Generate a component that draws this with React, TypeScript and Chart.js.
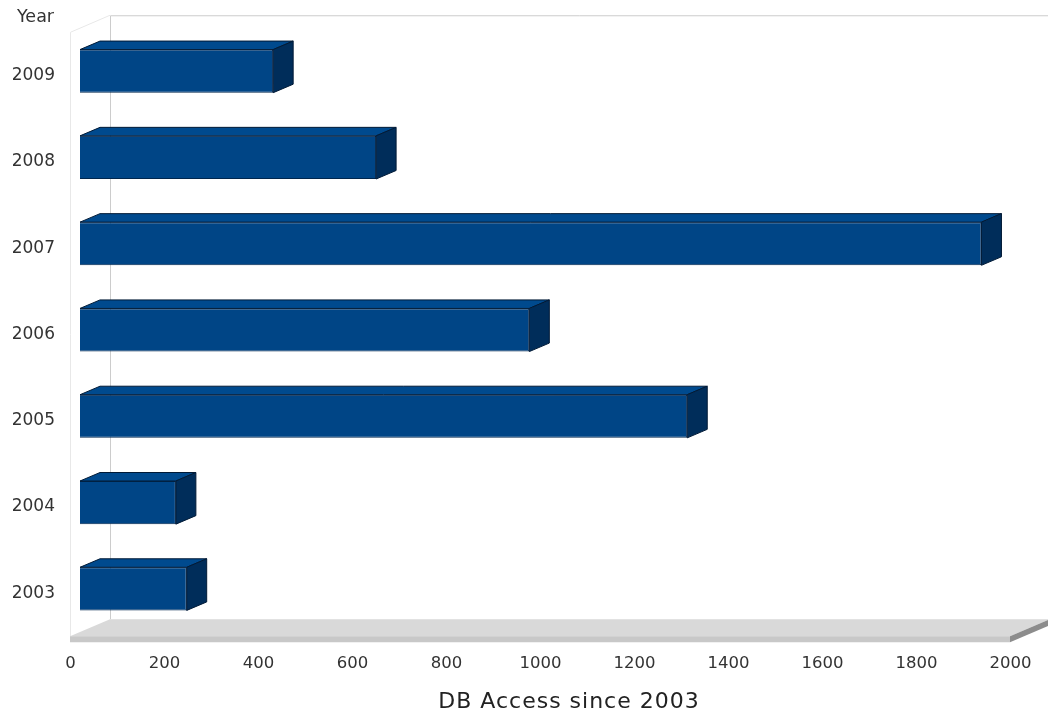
import React, { useEffect, useRef } from "react";
import { Chart, registerables } from "chart.js";

Chart.register(...registerables);

// ---- data ----
const categories = ["2003", "2004", "2005", "2006", "2007", "2008", "2009"];
const accessCounts = [227, 204, 1292, 956, 1918, 630, 411];
const xTickValues = [0, 200, 400, 600, 800, 1000, 1200, 1400, 1600, 1800, 2000];
const xTitle = "DB Access since 2003";
const yTitle = "Year";

const FONT = "'DejaVu Sans', sans-serif";

// depth geometry (relative to the bar front plane)
const FRONT_DX = -10;
const FRONT_DY = 4.25;
const BACK_DX = 30;
const BACK_DY = -12.75;
const BAR_DX = 20;
const BAR_DY = -8.5;
const FLOOR_T = 6;

const threeD = {
  id: "threeD",
  beforeDatasetsDraw(chart: any) {
    const { ctx, chartArea } = chart;
    const { top, bottom } = chartArea;
    const xs = chart.scales.x;
    const x0 = xs.getPixelForValue(xTickValues[0]);
    const x1 = xs.getPixelForValue(xTickValues[xTickValues.length - 1]);
    ctx.save();
    ctx.lineWidth = 1;
    // left wall
    ctx.strokeStyle = "#e8e8e8";
    ctx.beginPath();
    ctx.moveTo(x0 + FRONT_DX + 0.5, bottom + FRONT_DY);
    ctx.lineTo(x0 + FRONT_DX + 0.5, top + FRONT_DY);
    ctx.lineTo(x0 + BACK_DX, top + BACK_DY);
    ctx.stroke();
    // back wall
    ctx.strokeStyle = "#cccccc";
    ctx.beginPath();
    ctx.moveTo(x0 + BACK_DX + 0.5, bottom + BACK_DY);
    ctx.lineTo(x0 + BACK_DX + 0.5, top + BACK_DY + 0.5);
    ctx.lineTo(x1 + BACK_DX + 10, top + BACK_DY + 0.5);
    ctx.stroke();
    // floor top
    const fyF = bottom + FRONT_DY;
    const fyB = bottom + BACK_DY;
    ctx.fillStyle = "#d9d9d9";
    ctx.beginPath();
    ctx.moveTo(x0 + FRONT_DX, fyF);
    ctx.lineTo(x0 + BACK_DX, fyB);
    ctx.lineTo(x1 + BACK_DX, fyB);
    ctx.lineTo(x1 + FRONT_DX, fyF);
    ctx.closePath();
    ctx.fill();
    // floor front
    ctx.fillStyle = "#c8c8c8";
    ctx.fillRect(x0 + FRONT_DX, fyF, x1 - x0, FLOOR_T);
    // floor right side
    ctx.fillStyle = "#8c8c8c";
    ctx.beginPath();
    ctx.moveTo(x1 + FRONT_DX, fyF);
    ctx.lineTo(x1 + BACK_DX, fyB);
    ctx.lineTo(x1 + BACK_DX, fyB + FLOOR_T);
    ctx.lineTo(x1 + FRONT_DX, fyF + FLOOR_T);
    ctx.closePath();
    ctx.fill();
    ctx.restore();
  },
  afterDatasetsDraw(chart: any) {
    const { ctx } = chart;
    const meta = chart.getDatasetMeta(0);
    ctx.save();
    ctx.lineWidth = 1;
    ctx.strokeStyle = "#001a36";
    meta.data.forEach((el: any) => {
      const { x, y, base, height } = el.getProps(["x", "y", "base", "height"], true);
      const t = y - height / 2;
      const b = y + height / 2;
      // top face
      ctx.fillStyle = "#004a8e";
      ctx.beginPath();
      ctx.moveTo(base, t);
      ctx.lineTo(base + BAR_DX, t + BAR_DY);
      ctx.lineTo(x + BAR_DX, t + BAR_DY);
      ctx.lineTo(x, t);
      ctx.closePath();
      ctx.fill();
      ctx.stroke();
      // side face
      ctx.fillStyle = "#002d5a";
      ctx.beginPath();
      ctx.moveTo(x, t);
      ctx.lineTo(x + BAR_DX, t + BAR_DY);
      ctx.lineTo(x + BAR_DX, b + BAR_DY);
      ctx.lineTo(x, b);
      ctx.closePath();
      ctx.fill();
      ctx.stroke();
    });
    ctx.restore();
  },
  afterDraw(chart: any) {
    const { ctx } = chart;
    ctx.save();
    ctx.font = `17.5px ${FONT}`;
    ctx.fillStyle = "#333333";
    ctx.textAlign = "left";
    ctx.textBaseline = "alphabetic";
    ctx.fillText(yTitle, 17, 21.5);
    // x-axis title
    ctx.font = `22px ${FONT}`;
    ctx.fillStyle = "#222222";
    (ctx as any).letterSpacing = "1px";
    ctx.textAlign = "center";
    ctx.fillText(xTitle, 569, 708);
    ctx.restore();
  },
};

export default function App() {
  const ref = useRef<HTMLCanvasElement | null>(null);
  useEffect(() => {
    if (!ref.current) return;
    const chart = new Chart(ref.current, {
      type: "bar",
      data: {
        labels: categories,
        datasets: [
          {
            data: accessCounts,
            backgroundColor: "#004586",
            borderColor: "#00264d",
            borderWidth: 1,
            barPercentage: 0.5,
            categoryPercentage: 1,
          },
        ],
      },
      plugins: [threeD],
      options: {
        indexAxis: "y",
        responsive: false,
        animation: false,
        devicePixelRatio: 1,
        layout: { padding: { top: 28, right: 28, left: 0, bottom: 0 } },
        plugins: { legend: { display: false }, tooltip: { enabled: false } },
        scales: {
          x: {
            type: "linear",
            min: xTickValues[0],
            max: xTickValues[xTickValues.length - 1],
            afterBuildTicks: (scale: any) => {
              scale.ticks = xTickValues.map((v) => ({ value: v }));
            },
            afterFit: (scale: any) => {
              scale.height = 85;
              scale.paddingLeft = 0;
              scale.paddingRight = 0;
            },
            grid: { display: false, drawTicks: false },
            border: { display: false },
            ticks: {
              labelOffset: -9.5,
              padding: 22,
              color: "#333333",
              font: { family: FONT, size: 16.5 },
              maxRotation: 0,
              autoSkip: false,
              callback: (v: any) => String(v),
            },
          },
          y: {
            reverse: true,
            afterFit: (scale: any) => {
              scale.width = 80;
              scale.paddingTop = 0;
              scale.paddingBottom = 0;
            },
            grid: { display: false, drawTicks: false },
            border: { display: false },
            ticks: {
              labelOffset: 4.5,
              padding: 25,
              color: "#333333",
              font: { family: FONT, size: 17 },
            },
          },
        },
      },
    });
    return () => chart.destroy();
  }, []);
  return (
    <div style={{ position: "fixed", left: 0, top: 0, width: 1048, height: 717, background: "#fff" }}>
      <canvas ref={ref} width={1048} height={717} style={{ width: 1048, height: 717 }} />
    </div>
  );
}
